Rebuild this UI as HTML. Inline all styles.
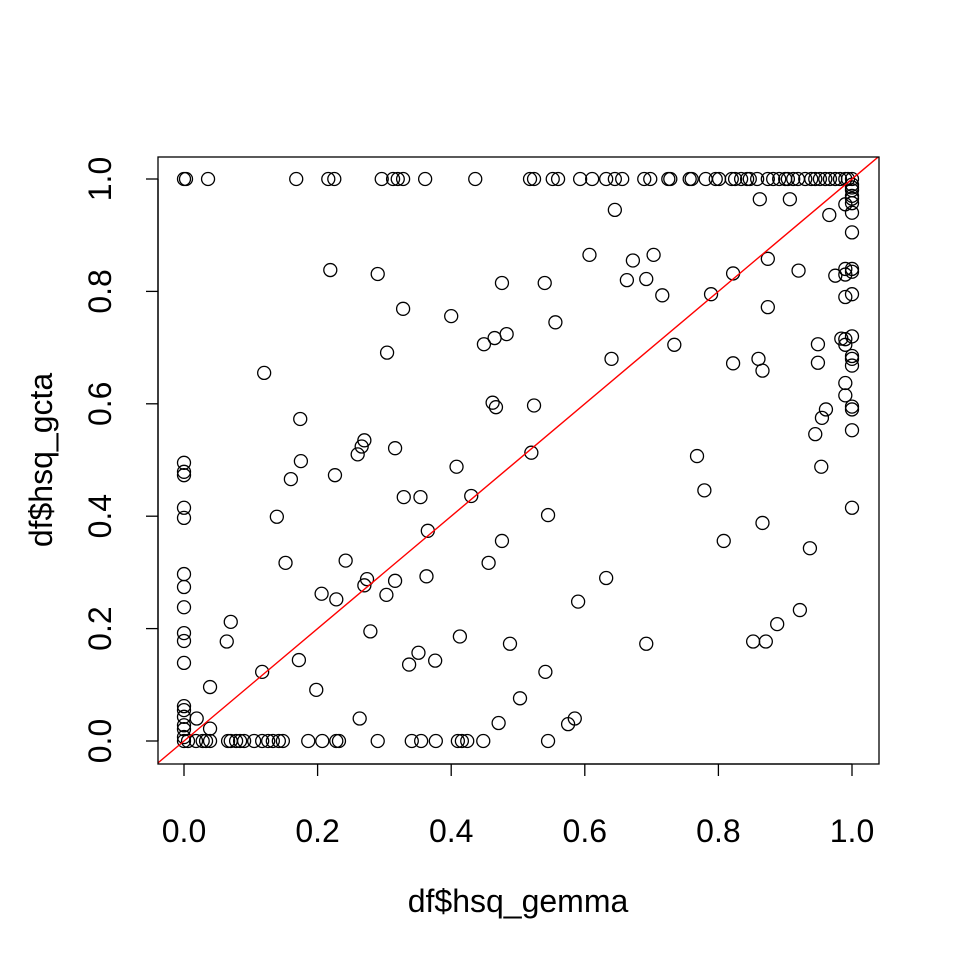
<!DOCTYPE html>
<html><head><meta charset="utf-8"><style>
html,body{margin:0;padding:0;background:#fff;}
svg text{font-family:"Liberation Sans",Arial,sans-serif;font-size:32px;fill:#000;}
</style></head><body>
<svg id="chart" width="960" height="960" xmlns="http://www.w3.org/2000/svg">
<defs><clipPath id="clip"><rect x="158" y="157" width="721" height="607"/></clipPath></defs>
<rect x="0" y="0" width="960" height="960" fill="#fff"/>
<g id="points" clip-path="url(#clip)"></g>
<g id="refline" clip-path="url(#clip)"></g>
<rect x="158" y="157" width="721" height="607" fill="none" stroke="#000" stroke-width="1.3"/>
<g id="axes"></g>
<text x="518" y="912" text-anchor="middle">df$hsq_gemma</text>
<text x="0" y="0" text-anchor="middle" transform="translate(52,460) rotate(-90)">df$hsq_gcta</text>
</svg>
<script>
const xTicks=[0,0.2,0.4,0.6,0.8,1.0];
const yTicks=[0,0.2,0.4,0.6,0.8,1.0];
const tickLabels=["0.0","0.2","0.4","0.6","0.8","1.0"];
const xVals=[
0,0.003,0.036,0.168,0.216,0.225,0.296,0.313,0.32,0.328,0.361,0.436,0.518,0.524,0.552,0.56,0.593,0.611,0.632,0.645,0.656,0.689,0.698,0.725,0.728,0.757,0.76,0.781,0.796,0.801,0.82,0.825,0.834,0.843,0.847,0.858,0.874,0.882,0.891,0.9,0.904,0.912,0.919,0.93,0.939,0.945,0.952,0.96,0.967,0.975,0.982,0.99,0.994,1,
0,0.006,0.018,0.028,0.033,0.039,0.066,0.07,0.078,0.084,0.09,0.105,0.117,0.126,0.133,0.142,0.148,0.186,0.207,0.228,0.232,0.29,0.341,0.355,0.377,0.41,0.416,0.424,0.448,0.545,
0,0,0,0,0,0,0,0,0,0,0,0,0,0,0,0,0,
1,1,1,1,1,1,1,1,1,1,1,1,1,1,1,1,1,1,1,
0.99,0.99,0.99,0.99,0.99,0.99,0.99,0.99,0.984,
0.219,0.29,0.328,0.4,0.304,0.476,0.465,0.483,0.449,0.54,0.556,0.64,0.645,0.607,0.672,0.663,0.692,0.703,0.716,0.734,0.789,0.822,0.822,0.874,0.874,0.862,0.907,0.92,0.966,0.975,0.86,0.866,
0.12,0.174,0.175,0.16,0.152,0.139,0.27,0.266,0.26,0.316,0.226,0.242,0.206,0.228,0.329,0.354,0.365,0.363,0.274,0.27,0.303,0.316,0.279,0.408,0.43,0.462,0.467,0.52,0.524,0.545,0.476,0.456,0.488,0.413,0.351,0.337,0.376,0.632,0.59,0.503,0.541,0.471,0.263,0.575,0.585,0.692,0.768,0.779,0.808,0.852,0.871,0.888,0.922,0.937,0.866,0.064,0.07,0.039,0.117,0.019,0.039,0.172,0.198,0.949,0.949,0.961,0.955,0.945,0.954];
const yVals=[
1,1,1,1,1,1,1,1,1,1,1,1,1,1,1,1,1,1,1,1,1,1,1,1,1,1,1,1,1,1,1,1,1,1,1,1,1,1,1,1,1,1,1,1,1,1,1,1,1,1,1,1,1,1,
0,0,0,0,0,0,0,0,0,0,0,0,0,0,0,0,0,0,0,0,0,0,0,0,0,0,0,0,0,0,
0.495,0.479,0.473,0.415,0.397,0.297,0.274,0.238,0.192,0.178,0.139,0.062,0.055,0.043,0.028,0.021,0.007,
0.99,0.98,0.965,0.957,0.94,0.905,0.84,0.835,0.795,0.72,0.685,0.68,0.668,0.595,0.553,0.415,0.97,0.985,0.59,
0.84,0.83,0.79,0.715,0.705,0.637,0.615,0.955,0.716,
0.838,0.831,0.769,0.756,0.691,0.815,0.717,0.724,0.706,0.815,0.745,0.68,0.945,0.865,0.855,0.82,0.822,0.865,0.793,0.705,0.795,0.832,0.672,0.858,0.772,0.964,0.964,0.837,0.936,0.828,0.68,0.659,
0.655,0.573,0.498,0.466,0.317,0.399,0.535,0.524,0.51,0.521,0.473,0.321,0.262,0.252,0.434,0.434,0.374,0.293,0.288,0.277,0.26,0.285,0.195,0.488,0.436,0.602,0.594,0.513,0.597,0.402,0.356,0.317,0.173,0.186,0.157,0.136,0.143,0.29,0.248,0.076,0.123,0.032,0.04,0.03,0.04,0.173,0.507,0.446,0.356,0.177,0.177,0.208,0.233,0.343,0.388,0.177,0.212,0.096,0.123,0.04,0.022,0.144,0.091,0.673,0.706,0.59,0.575,0.546,0.488];
const NS="http://www.w3.org/2000/svg";
function xs(v){return 184+v*668;}
function ys(v){return 741-v*562;}
const pts=document.getElementById('points');
for(let i=0;i<xVals.length;i++){
  const c=document.createElementNS(NS,'circle');
  c.setAttribute('cx',xs(xVals[i]));c.setAttribute('cy',ys(yVals[i]));
  c.setAttribute('r',6.5);c.setAttribute('fill','none');c.setAttribute('stroke','#000');c.setAttribute('stroke-width','1.3');
  
  
  pts.appendChild(c);
}
const rl=document.createElementNS(NS,'line');
rl.setAttribute('x1',xs(-0.1));rl.setAttribute('y1',ys(-0.1));rl.setAttribute('x2',xs(1.1));rl.setAttribute('y2',ys(1.1));
rl.setAttribute('stroke','#ff0000');rl.setAttribute('stroke-width','1.4');


document.getElementById('refline').appendChild(rl);
const ax=document.getElementById('axes');
function add(tag,attrs,name,txt){const e=document.createElementNS(NS,tag);for(const k in attrs)e.setAttribute(k,attrs[k]);if(txt!==undefined)e.textContent=txt;

ax.appendChild(e);return e;}
add('line',{x1:xs(0),x2:xs(1),y1:764,y2:764,stroke:'#000','stroke-width':1.3},'x-axis-line');
add('line',{x1:158,x2:158,y1:ys(0),y2:ys(1),stroke:'#000','stroke-width':1.3},'y-axis-line');
xTicks.forEach((t,i)=>{
  add('line',{x1:xs(t),x2:xs(t),y1:764,y2:776,stroke:'#000','stroke-width':1.3},'x-tick');
  add('text',{x:xs(t),y:842,'text-anchor':'middle'},'x-tick-label',tickLabels[i]);
});
yTicks.forEach((t,i)=>{
  add('line',{x1:146,x2:158,y1:ys(t),y2:ys(t),stroke:'#000','stroke-width':1.3},'y-tick');
  add('text',{x:0,y:0,'text-anchor':'middle',transform:'translate(111,'+ys(t)+') rotate(-90)'},'y-tick-label',tickLabels[i]);
});
</script>
</body></html>
